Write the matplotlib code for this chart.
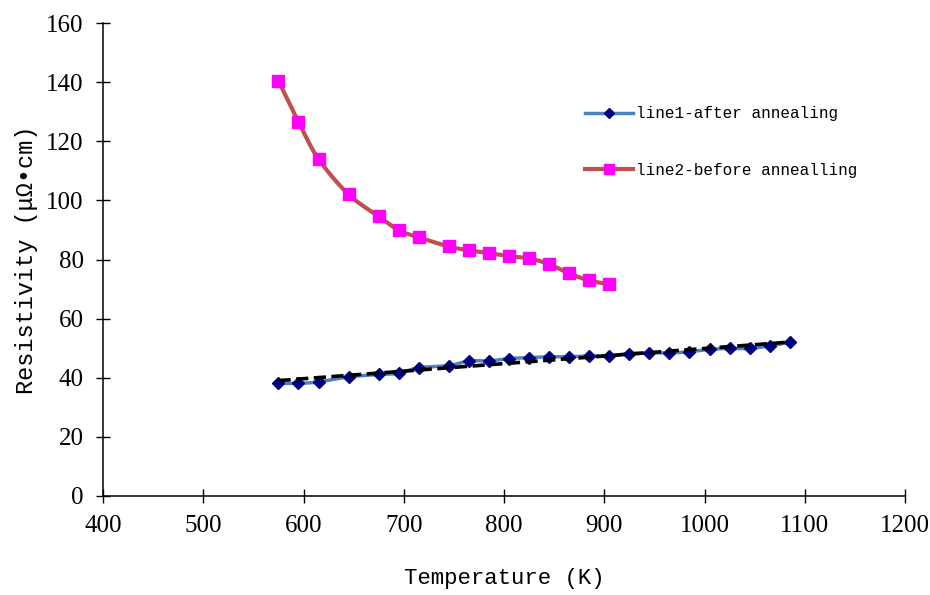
import numpy as np
import matplotlib
matplotlib.use("Agg")
import matplotlib.pyplot as plt
from matplotlib.lines import Line2D

# Measured resistivity vs temperature
temp_after = [575, 595, 615, 645, 675, 695, 715, 745, 765, 785, 805, 825, 845,
              865, 885, 905, 925, 945, 965, 985, 1005, 1025, 1045, 1065, 1085]
rho_after = [38.1, 38.1, 38.6, 40.3, 41.1, 41.5, 43.4, 44.1, 45.7, 45.7, 46.5,
             46.8, 47.1, 47.1, 47.4, 47.4, 48.2, 48.4, 48.4, 48.8, 49.6, 49.9,
             49.9, 50.8, 52.0]

temp_before = [575, 595, 615, 645, 675, 695, 715, 745, 765, 785, 805, 825, 845,
               865, 885, 905]
rho_before = [140.4, 126.5, 114.0, 102.0, 94.6, 89.9, 87.5, 84.4, 83.1, 82.2,
              81.1, 80.4, 78.4, 75.3, 72.9, 71.6]

x_ticks = [400, 500, 600, 700, 800, 900, 1000, 1100, 1200]
y_ticks = [0, 20, 40, 60, 80, 100, 120, 140, 160]

label_after = "line1-after annealing"
label_before = "line2-before annealling"


def smooth(xs, ys, n=20):
    """Catmull-Rom curve through the points (smoothed line)."""
    p = np.column_stack([xs, ys]).astype(float)
    p = np.vstack([2 * p[0] - p[1], p, 2 * p[-1] - p[-2]])
    out = []
    t = np.linspace(0, 1, n, endpoint=False)[:, None]
    for i in range(1, len(p) - 2):
        p0, p1, p2, p3 = p[i - 1], p[i], p[i + 1], p[i + 2]
        seg = 0.5 * ((2 * p1) + (-p0 + p2) * t
                     + (2 * p0 - 5 * p1 + 4 * p2 - p3) * t ** 2
                     + (-p0 + 3 * p1 - 3 * p2 + p3) * t ** 3)
        out.append(seg)
    out.append(p[-2][None, :])
    out = np.vstack(out)
    return out[:, 0], out[:, 1]


fig = plt.figure(figsize=(9.3, 5.95), dpi=100)
ax = fig.add_axes([103 / 930, 1 - 496 / 595, (905 - 103) / 930, (496 - 23) / 595])

blue_line = "#4F81BD"
red_line = "#C0504D"

# after annealing
sx, sy = smooth(temp_after, rho_after)
ax.plot(sx, sy, color=blue_line, lw=2.5, solid_capstyle="round", zorder=2)
ax.plot(temp_after, rho_after, linestyle="none", marker="D", ms=6.5,
        color="#000080", zorder=3)

# linear trend of the after-annealing data
k, b = np.polyfit(temp_after, rho_after, 1)
tx = np.array([temp_after[0], temp_after[-1]])
ax.plot(tx, k * tx + b, color="black", lw=2.6, linestyle=(0, (3.4, 1.5)), zorder=4)

# before annealing
sx, sy = smooth(temp_before, rho_before)
ax.plot(sx, sy, color=red_line, lw=3.0, solid_capstyle="round", zorder=2)
ax.plot(temp_before, rho_before, linestyle="none", marker="s", ms=8.5,
        color="#FF00FF", zorder=3)

ax.set_xlim(400, 1200)
ax.set_ylim(0, 160)
ax.set_xticks(x_ticks)
ax.set_yticks(y_ticks)

serif = ["Liberation Serif", "DejaVu Serif"]
mono = ["Liberation Mono", "DejaVu Sans Mono"]
ax.set_xticklabels([str(v) for v in x_ticks], family=serif, fontsize=18)
ax.set_yticklabels([str(v) for v in y_ticks], family=serif, fontsize=18)

ax.spines["top"].set_visible(False)
ax.spines["right"].set_visible(False)
for s in ("left", "bottom"):
    ax.spines[s].set_linewidth(1.1)
ax.tick_params(direction="inout", length=10, width=1.0, pad=9)
ax.tick_params(axis="x", pad=9)

ax.set_xlabel("Temperature (K)", family=mono, fontsize=16, labelpad=22)
ax.set_ylabel("Resistivity (μΩ•cm)", family=mono, fontsize=17, labelpad=6)

handles = [
    Line2D([], [], color=blue_line, lw=2.5, marker="D", ms=5,
           markerfacecolor="#000080", markeredgecolor="#000080"),
    Line2D([], [], color=red_line, lw=3.0, marker="s", ms=7,
           markerfacecolor="#FF00FF", markeredgecolor="#FF00FF"),
]
ax.legend(handles, [label_after, label_before], loc="upper left",
          bbox_to_anchor=(571 / 930, 1 - 92 / 595), bbox_transform=fig.transFigure,
          frameon=False, prop={"family": mono, "size": 11.5},
          handlelength=3.0, handletextpad=0.2, labelspacing=2.6)

fig.savefig("out.png", dpi=100)
